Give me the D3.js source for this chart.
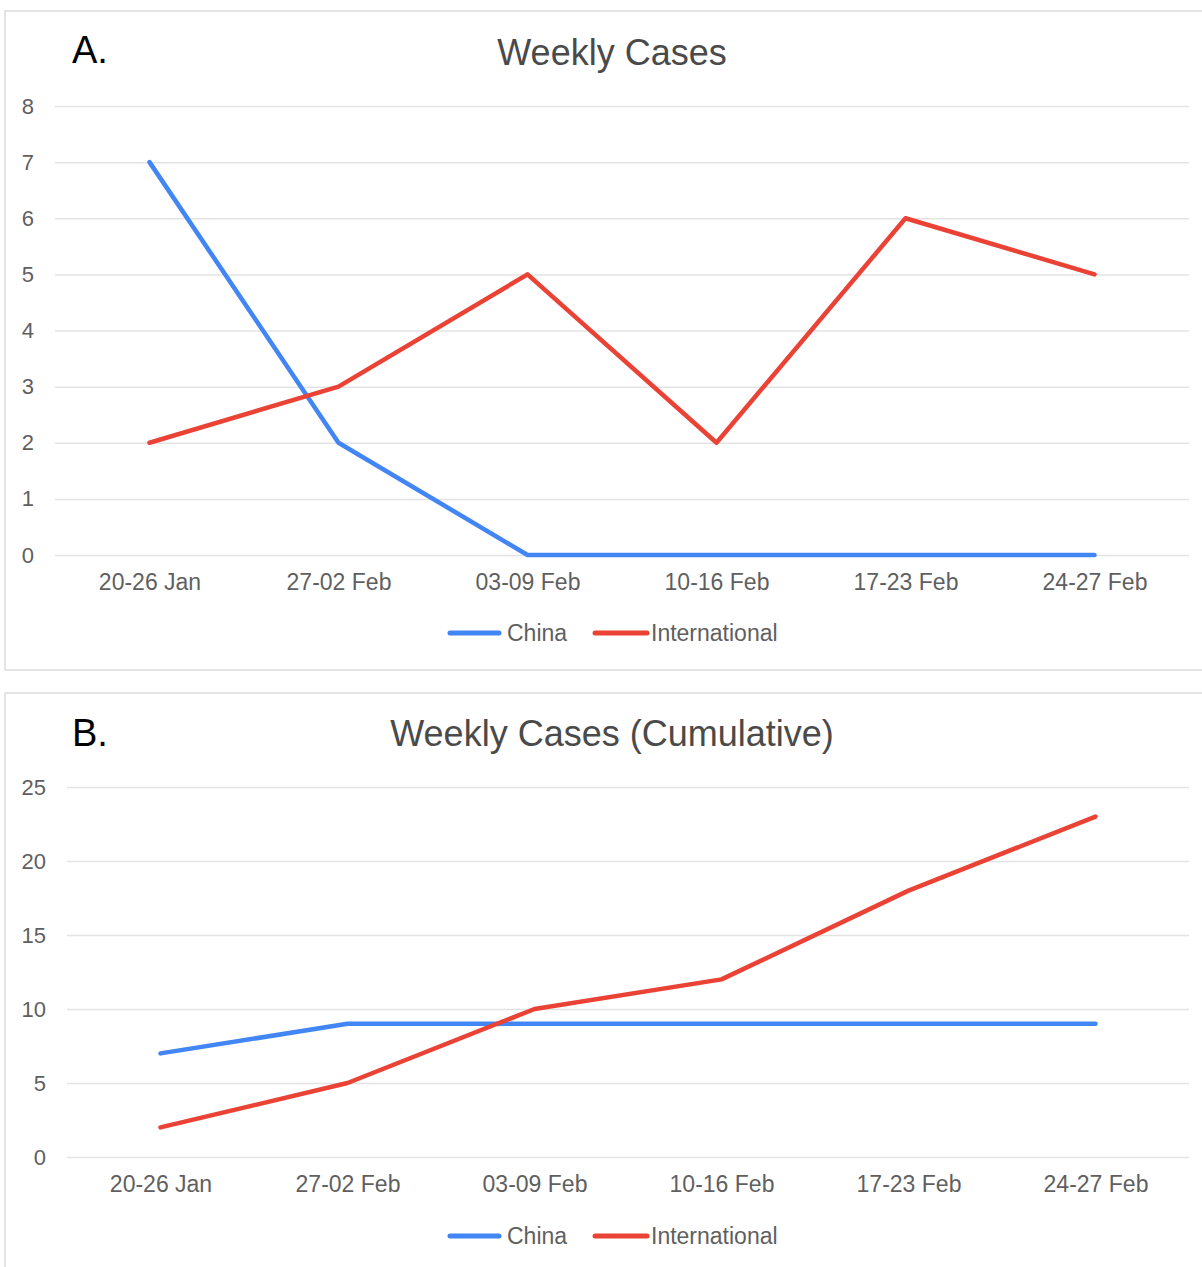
<!DOCTYPE html>
<html>
<head>
<meta charset="utf-8">
<script src="https://d3js.org/d3.v7.min.js"></script>
<style>
  body { margin: 0; background: #fff; }
  svg { display: block; font-family: "Liberation Sans", Arial, sans-serif; }
  .grid line { stroke: #e3e3e3; stroke-width: 1.5; }
  .tick text { fill: #5f5f5f; }
</style>
</head>
<body>
<svg id="chart" width="1202" height="1267"></svg>
<script>
// week labels
const weeks = ["20-26 Jan", "27-02 Feb", "03-09 Feb", "10-16 Feb", "17-23 Feb", "24-27 Feb"];

// weekly cases
const weeklyChina = [7, 2, 0, 0, 0, 0];
const weeklyIntl = [2, 3, 5, 2, 6, 5];
const weeklyTicks = [0, 1, 2, 3, 4, 5, 6, 7, 8];

// cumulative
const cumChina = [7, 9, 9, 9, 9, 9];
const cumIntl = [2, 5, 10, 12, 18, 23];
const cumTicks = [0, 5, 10, 15, 20, 25];

const seriesNames = ["China", "International"];
const colors = { China: "#4285f4", International: "#ea4335" };

const svg = d3.select("#chart");

function drawPanel(opt) {
  let g = svg.append("g");

  // card border
  g.append("rect")
    .attr("x", opt.box[0]).attr("y", opt.box[1])
    .attr("width", opt.box[2]).attr("height", opt.box[3])
    .attr("fill", "#fff").attr("stroke", "#dcdcdc").attr("stroke-width", 1.5);

  g.append("text")
    .attr("x", 72).attr("y", opt.letterY)
    .attr("font-size", 38).attr("fill", "#000")
    .text(opt.letter);

  g.append("text")
    .attr("x", 612).attr("y", opt.titleY)
    .attr("text-anchor", "middle")
    .attr("font-size", 36).attr("fill", "#4a4a4a")
    .text(opt.title);

  let x = d3.scalePoint().domain(weeks).range([opt.left, 1189]).padding(0.5);
  let y = d3.scaleLinear().domain(opt.yDomain).range([opt.bottom, opt.top]);

  // gridlines + y labels
  let yAxis = d3.axisLeft(y).tickValues(opt.ticks)
    .tickSize(-(1189 - opt.left)).tickPadding(21).tickFormat(d3.format("d"));
  let ga = g.append("g").attr("class", "grid")
    .attr("transform", "translate(" + opt.left + ",0)")
    .call(yAxis);
  ga.select(".domain").remove();
  ga.selectAll("text").attr("font-size", 22).attr("font-family", "Liberation Sans, Arial, sans-serif");

  // x labels
  let xAxis = d3.axisBottom(x).tickSize(0).tickPadding(19);
  let gx = g.append("g")
    .attr("transform", "translate(0," + opt.bottom + ")")
    .call(xAxis);
  gx.select(".domain").remove();
  gx.selectAll("text").attr("font-size", 23).attr("font-family", "Liberation Sans, Arial, sans-serif");

  let line = d3.line()
    .x((d, i) => x(weeks[i]))
    .y(d => y(d));

  opt.series.forEach((s, k) => {
    g.append("path")
      .datum(s)
      .attr("d", line)
      .attr("fill", "none")
      .attr("stroke", colors[seriesNames[k]])
      .attr("stroke-width", 4.5)
      .attr("stroke-linejoin", "round")
      .attr("stroke-linecap", "round");
  });

  // legend
  let legendX = [450, 595];
  seriesNames.forEach((name, k) => {
    g.append("line")
      .attr("x1", legendX[k]).attr("x2", legendX[k] + (k ? 52 : 49))
      .attr("y1", opt.legendY).attr("y2", opt.legendY)
      .attr("stroke", colors[name]).attr("stroke-width", 5)
      .attr("stroke-linecap", "round");
    g.append("text")
      .attr("x", legendX[k] + (k ? 56 : 57)).attr("y", opt.legendY + 8)
      .attr("font-size", 23).attr("fill", "#5f5f5f")
      .text(name);
  });
}

drawPanel({
  box: [5, 11, 1215, 659],
  letter: "A.", letterY: 63,
  title: "Weekly Cases", titleY: 65,
  left: 55, top: 106, bottom: 555,
  yDomain: [0, 8], ticks: weeklyTicks,
  series: [weeklyChina, weeklyIntl],
  legendY: 633
});

drawPanel({
  box: [5, 693, 1215, 600],
  letter: "B.", letterY: 746,
  title: "Weekly Cases (Cumulative)", titleY: 746,
  left: 67, top: 787, bottom: 1157,
  yDomain: [0, 25], ticks: cumTicks,
  series: [cumChina, cumIntl],
  legendY: 1236
});
</script>
</body>
</html>
